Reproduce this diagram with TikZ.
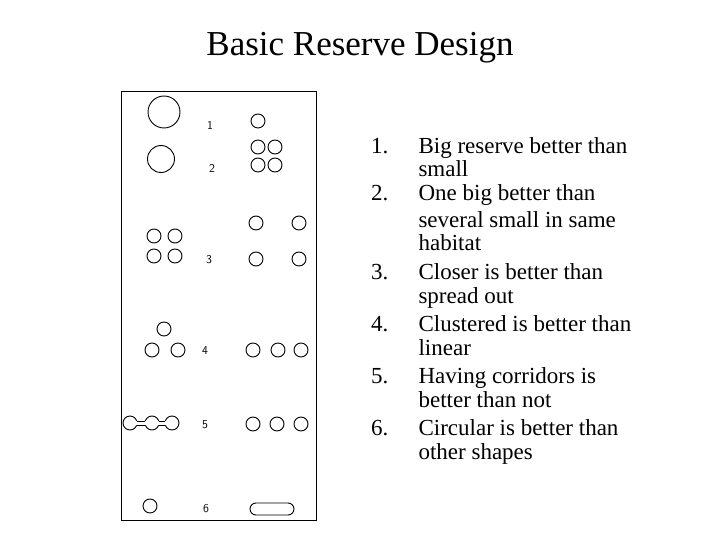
\documentclass[tikz,border=0pt]{standalone}
\usepackage{fontspec}
\setmainfont{Liberation Serif}
\begin{document}
\begin{tikzpicture}[x=1pt,y=-1pt,
  c/.style={draw,line width=0.9pt},
  lab/.style={font=\sffamily\fontsize{12}{14}\selectfont},
  num/.style={anchor=base east,font=\fontsize{23}{26}\selectfont},
  txt/.style={anchor=base west,font=\fontsize{23}{26}\selectfont}]
\useasboundingbox (0,0) rectangle (720,540);
\node (title) at (360,48) {\fontsize{35}{40}\selectfont Basic Reserve Design};
\draw[line width=1pt] (121,92) rectangle (316,520);
% row 1
\draw[c] (164,112) circle (16);
\node[lab] (l1) at (210,125) {1};
\draw[c] (258,121) circle (7);
% row 2
\draw[c] (161,159) circle (13.5);
\node[lab] (l2) at (212,168) {2};
\foreach \x in {258,275} \foreach \y in {147,165} \draw[c] (\x,\y) circle (7);
% row 3
\foreach \x in {154,175} \foreach \y in {236,256} \draw[c] (\x,\y) circle (7);
\node[lab] (l3) at (209,260) {3};
\foreach \x in {256,299} \foreach \y in {223,259} \draw[c] (\x,\y) circle (7);
% row 4
\draw[c] (164,329) circle (7);
\draw[c] (152,350) circle (7);
\draw[c] (178,350) circle (7);
\node[lab] (l4) at (205,351) {4};
\foreach \x in {253,278,301} \draw[c] (\x,350) circle (7);
% row 5
\draw[c] (130,423) circle (7);
\draw[c] (152,423) circle (7);
\draw[c] (172,423) circle (7);
\fill[white] (136,421) rectangle (146,425) (158,421) rectangle (166,425);
\draw[c] (136.7,421) -- (145.3,421) (136.7,425) -- (145.3,425)
        (158.7,421) -- (165.3,421) (158.7,425) -- (165.3,425);
\node[lab] (l5) at (205,425) {5};
\foreach \x in {253,277,301} \draw[c] (\x,424) circle (7);
% row 6
\draw[c] (150,506) circle (7);
\node[lab] (l6) at (206,509) {6};
\draw[c,rounded corners=6] (250,503) rectangle (294,515);
% list
\node[num] (n1) at (392,154) {1.}; \node[txt] (t1) at (415,154) {Big reserve better than};
\node[txt] (t1b) at (415,177) {small};
\node[num] (n2) at (392,201) {2.}; \node[txt] (t2) at (415,201) {One big better than};
\node[txt] (t2b) at (415,227) {several small in same};
\node[txt] (t2c) at (415,251) {habitat};
\node[num] (n3) at (392,279) {3.}; \node[txt] (t3) at (415,279) {Closer is better than};
\node[txt] (t3b) at (415,303) {spread out};
\node[num] (n4) at (392,331) {4.}; \node[txt] (t4) at (415,331) {Clustered is better than};
\node[txt] (t4b) at (415,355) {linear};
\node[num] (n5) at (392,383) {5.}; \node[txt] (t5) at (415,383) {Having corridors is};
\node[txt] (t5b) at (415,407) {better than not};
\node[num] (n6) at (392,435) {6.}; \node[txt] (t6) at (415,435) {Circular is better than};
\node[txt] (t6b) at (415,459) {other shapes};
\end{tikzpicture}
\end{document}
